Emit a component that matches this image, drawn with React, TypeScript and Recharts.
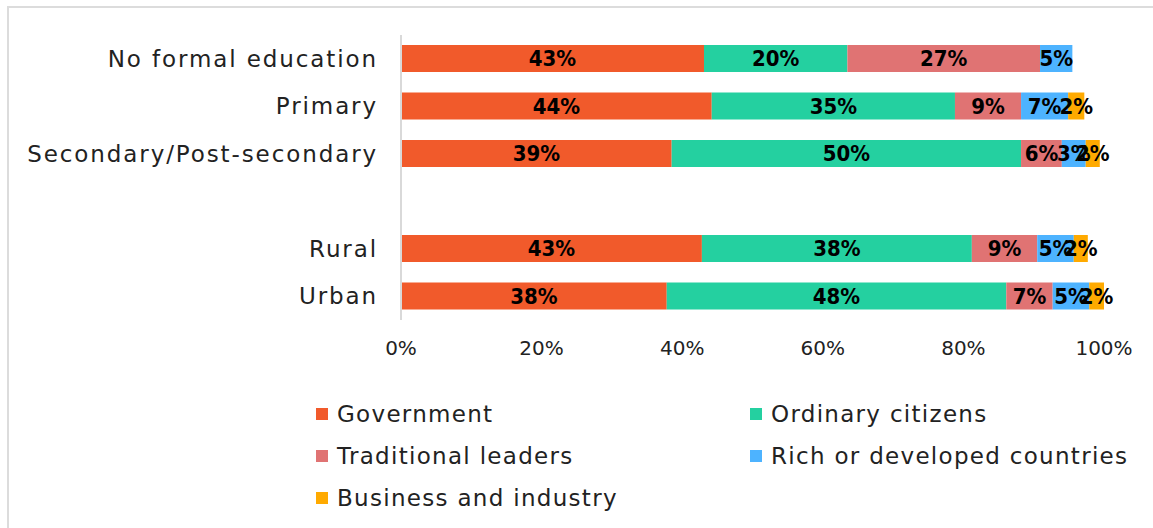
import React from 'react';
import { BarChart, Bar, XAxis, YAxis, LabelList, Legend } from 'recharts';

const categories = ['No formal education', 'Primary', 'Secondary/Post-secondary', ' ', 'Rural', 'Urban'];
// Shares; labels show the rounded percentage
const government = [43.1, 44.2, 38.5, null, 42.8, 37.8];
const ordinary = [20.4, 34.6, 49.7, null, 38.4, 48.3];
const traditional = [27.4, 9.4, 5.8, null, 9.3, 6.6];
const rich = [4.6, 6.7, 3.4, null, 5.2, 5.2];
const business = [null, 2.3, 2.0, null, 2.0, 2.1];
const xTicks = [0, 20, 40, 60, 80, 100];

const series = [
  { key: 'government', name: 'Government', color: '#F15A2B', values: government },
  { key: 'ordinary', name: 'Ordinary citizens', color: '#24D0A0', values: ordinary },
  { key: 'traditional', name: 'Traditional leaders', color: '#E07373', values: traditional },
  { key: 'rich', name: 'Rich or developed countries', color: '#4DB3FF', values: rich },
  { key: 'business', name: 'Business and industry', color: '#FFAA00', values: business },
];

const data = categories.map((name, i) => {
  const row: any = { name };
  series.forEach((s) => {
    row[s.key] = s.values[i];
  });
  return row;
});

const FONT = '"DejaVu Sans", sans-serif';
const LABEL_FONT = '"DejaVu Sans Condensed", "DejaVu Sans", sans-serif';

const LegendContent = () => (
  <div
    style={{
      display: 'grid',
      gridTemplateColumns: '434px 420px',
      gridAutoRows: '42px',
      paddingLeft: 316,
      paddingTop: 43,
      fontFamily: FONT,
      fontSize: 23,
      letterSpacing: 1.3,
      color: '#222',
    }}
  >
    {series.map((s) => (
      <div key={s.key} style={{ display: 'flex', alignItems: 'center', whiteSpace: 'nowrap' }}>
        <span style={{ display: 'inline-block', width: 12, height: 12, background: s.color, marginRight: 9 }} />
        <span>{s.name}</span>
      </div>
    ))}
  </div>
);

export default function App() {
  return (
    <div style={{ position: 'absolute', left: 0, top: 0, width: 1153, height: 528, overflow: 'hidden', background: '#fff' }}>
      <div
        style={{
          position: 'absolute',
          left: 7,
          top: 6,
          width: 1160,
          height: 540,
          borderLeft: '2px solid #dcdcdc',
          borderTop: '2px solid #dcdcdc',
        }}
      />
      <div style={{ position: 'absolute', left: 0, top: 0 }}>
        <BarChart
          width={1153}
          height={528}
          data={data}
          layout="vertical"
          margin={{ top: 35, right: 49, bottom: 8, left: 0 }}
          barSize={27}
        >
          <XAxis
            type="number"
            domain={[0, 100]}
            ticks={xTicks}
            tickFormatter={(v) => `${v}%`}
            axisLine={false}
            tickLine={false}
            height={30}
            tickMargin={15}
            tick={{ fontSize: 20, fill: '#222', fontFamily: FONT }}
            interval={0}
          />
          <YAxis
            type="category"
            dataKey="name"
            width={401}
            axisLine={{ stroke: '#d9d9d9', strokeWidth: 2 }}
            tickLine={false}
            tickMargin={17}
            interval={0}
            tick={{ fontSize: 23, fill: '#222', fontFamily: FONT, letterSpacing: 1.9 }}
          />
          <Legend
            verticalAlign="bottom"
            content={() => <LegendContent />}
            wrapperStyle={{ left: 0, top: 350, width: 1153, height: 170 }}
          />
          {series.map((s) => (
            <Bar key={s.key} dataKey={s.key} name={s.name} stackId="a" fill={s.color} isAnimationActive={false}>
              <LabelList
                dataKey={s.key}
                position="center"
                formatter={(v: any) => (v == null ? '' : `${Math.round(v)}%`)}
                style={{ fontSize: 22, fontWeight: 'bold', fill: '#000', fontFamily: LABEL_FONT }}
              />
            </Bar>
          ))}
        </BarChart>
      </div>
    </div>
  );
}
